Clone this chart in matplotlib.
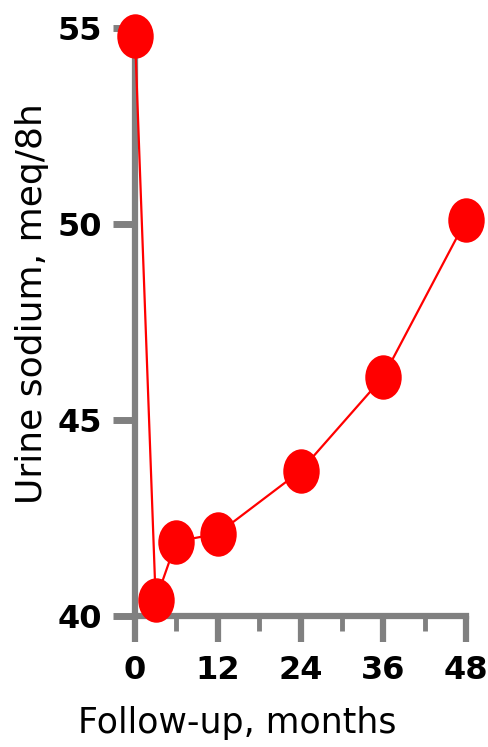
import numpy as np
import matplotlib.pyplot as plt
from matplotlib.path import Path
from matplotlib.transforms import Affine2D

# follow-up time and urine sodium
months = [0, 3, 6, 12, 24, 36, 48]
sodium = [54.8, 40.4, 41.9, 42.1, 43.7, 46.1, 50.1]

xticks = [0, 12, 24, 36, 48]
xminor = [6, 18, 30, 42]
yticks = [40, 45, 50, 55]

W, H = 488, 747
fig = plt.figure(figsize=(W / 100, H / 100), dpi=100)
ax = fig.add_axes([135 / W, 1 - 616 / H, 331 / W, 588 / H])

# slightly tall oval marker
oval = Affine2D().scale(0.82, 1.0).transform_path(Path.unit_circle())

ax.plot(months, sodium, color='#ff0000', lw=1.6, marker=oval,
        markersize=32, markeredgewidth=0, clip_on=False, zorder=3)

ax.set_xlim(0, 48)
ax.set_ylim(40, 55)

gray = '#808080'
for s in ['top', 'right']:
    ax.spines[s].set_visible(False)
for s in ['left', 'bottom']:
    ax.spines[s].set_color(gray)
    ax.spines[s].set_linewidth(4.5)

ax.set_xticks(xticks)
ax.set_xticks(xminor, minor=True)
ax.set_yticks(yticks)

tick_font = {'family': ['DejaVu Sans Condensed', 'DejaVu Sans'],
             'weight': 'bold', 'size': 23}
ax.set_xticklabels([str(v) for v in xticks], fontdict=tick_font)
ax.set_yticklabels([str(v) for v in yticks], fontdict=tick_font)

ax.tick_params(axis='x', which='major', direction='out', length=19,
               width=4.5, color=gray, pad=9)
ax.tick_params(axis='x', which='minor', direction='out', length=11,
               width=3.5, color=gray)
ax.tick_params(axis='y', which='major', direction='out', length=16,
               width=5, color=gray, pad=8)

fig.text(237 / W, 1 - 733 / H, 'Follow-up, months', ha='center',
         va='baseline', fontsize=25, family='DejaVu Sans')
fig.text(42 / W, 1 - 304 / H, 'Urine sodium, meq/8h', ha='center',
         va='baseline', rotation=90, rotation_mode='anchor',
         fontsize=26, family='DejaVu Sans')

fig.savefig('out.png', dpi=100)
